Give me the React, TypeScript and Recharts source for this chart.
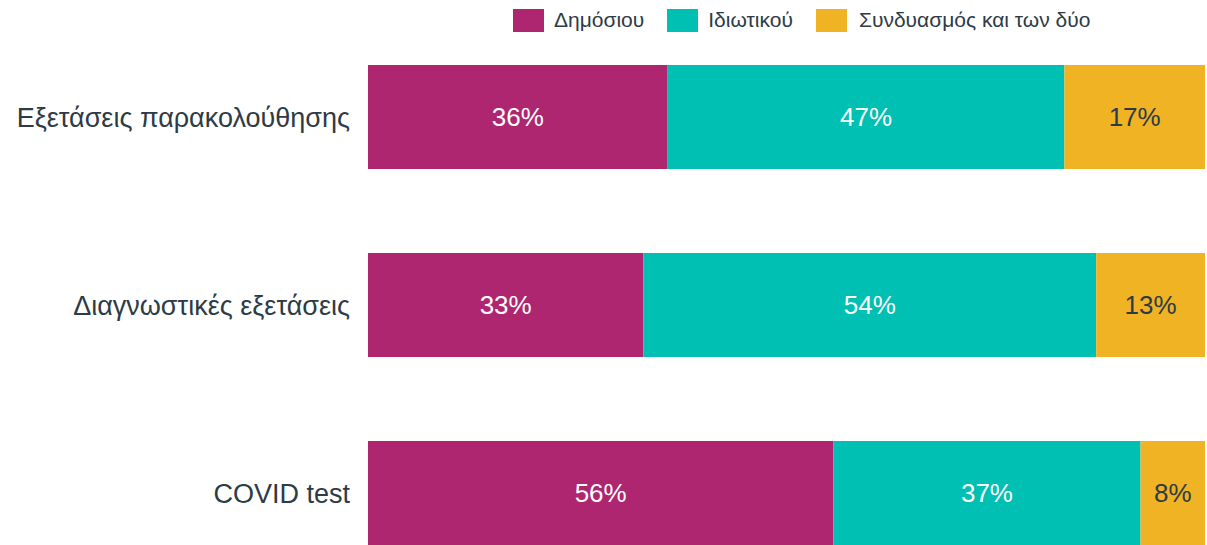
import React from "react";
import { BarChart, Bar, XAxis, YAxis, Legend, LabelList } from "recharts";

const categories = ["Εξετάσεις παρακολούθησης", "Διαγνωστικές εξετάσεις", "COVID test"];
const publicShare = [35.8, 32.9, 55.6];
const privateShare = [47.4, 54.1, 36.7];
const bothShare = [16.8, 13.0, 7.7];
const seriesNames = ["Δημόσιου", "Ιδιωτικού", "Συνδυασμός και των δύο"];
const seriesColors = ["#AE2570", "#00BFB3", "#F0B323"];

const chartData = categories.map((name, i) => ({
  name,
  pub: publicShare[i],
  priv: privateShare[i],
  both: bothShare[i],
}));

const TEXT = "#2e3b46";
const FONT = "'Liberation Sans', Arial, sans-serif";

function LegendBox() {
  return (
    <div style={{ display: "flex", alignItems: "center", fontFamily: FONT, fontSize: 21, color: TEXT }}>
      {seriesNames.map((n, i) => (
        <div key={n} style={{ display: "flex", alignItems: "center", marginRight: 23 }}>
          <span style={{ display: "inline-block", width: 31, height: 23, background: seriesColors[i], marginRight: i === 2 ? 12 : 10 }} />
          <span>{n}</span>
        </div>
      ))}
    </div>
  );
}

const pct = (v: any) => `${Math.round(Number(v))}%`;

export default function App() {
  return (
    <div style={{ position: "fixed", left: 0, top: 0, width: 1207, height: 545, overflow: "hidden", background: "#fff" }}>
      <BarChart
        width={1207}
        height={587}
        data={chartData}
        layout="vertical"
        margin={{ top: 0, right: 2, left: 0, bottom: 0 }}
        barSize={104}
      >
        <Legend
          verticalAlign="top"
          align="left"
          height={23}
          content={() => <LegendBox />}
          wrapperStyle={{ top: 8, left: 513 }}
        />
        <XAxis type="number" domain={[0, 100]} allowDataOverflow hide />
        <YAxis
          type="category"
          dataKey="name"
          width={368}
          axisLine={false}
          tickLine={false}
          tickSize={0}
          tickMargin={18}
          tick={{ fill: TEXT, fontSize: 27, fontFamily: FONT }}
        />
        <Bar dataKey="pub" stackId="a" fill={seriesColors[0]} isAnimationActive={false}>
          <LabelList dataKey="pub" position="center" formatter={pct} fill="#ffffff" style={{ fontSize: 26, fontFamily: FONT }} />
        </Bar>
        <Bar dataKey="priv" stackId="a" fill={seriesColors[1]} isAnimationActive={false}>
          <LabelList dataKey="priv" position="center" formatter={pct} fill="#ffffff" style={{ fontSize: 26, fontFamily: FONT }} />
        </Bar>
        <Bar dataKey="both" stackId="a" fill={seriesColors[2]} isAnimationActive={false}>
          <LabelList dataKey="both" position="center" formatter={pct} fill={TEXT} style={{ fontSize: 26, fontFamily: FONT }} />
        </Bar>
      </BarChart>
    </div>
  );
}
